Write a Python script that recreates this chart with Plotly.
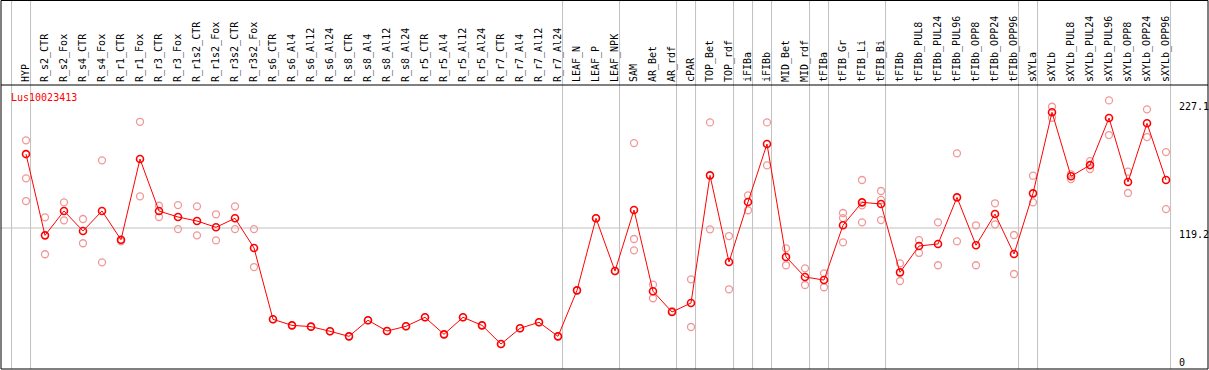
import plotly.graph_objects as go

categories = ["HYP", "R_s2_CTR", "R_s2_Fox", "R_s4_CTR", "R_s4_Fox", "R_r1_CTR", "R_r1_Fox",
              "R_r3_CTR", "R_r3_Fox", "R_r1s2_CTR", "R_r1s2_Fox", "R_r3s2_CTR", "R_r3s2_Fox",
              "R_s6_CTR", "R_s6_Al4", "R_s6_Al12", "R_s6_Al24", "R_s8_CTR", "R_s8_Al4", "R_s8_Al12",
              "R_s8_Al24", "R_r5_CTR", "R_r5_Al4", "R_r5_Al12", "R_r5_Al24", "R_r7_CTR", "R_r7_Al4",
              "R_r7_Al12", "R_r7_Al24", "LEAF_N", "LEAF_P", "LEAF_NPK", "SAM", "AR_Bet", "AR_rdf",
              "cPAR", "TOP_Bet", "TOP_rdf", "iFIBa", "iFIBb", "MID_Bet", "MID_rdf", "tFIBa",
              "tFIB_Gr", "tFIB_Li", "tFIB_Bi", "tFIBb", "tFIBb_PUL8", "tFIBb_PUL24", "tFIBb_PUL96",
              "tFIBb_OPP8", "tFIBb_OPP24", "tFIBb_OPP96", "sXYLa", "sXYLb", "sXYLb_PUL8",
              "sXYLb_PUL24", "sXYLb_PUL96", "sXYLb_OPP8", "sXYLb_OPP24", "sXYLb_OPP96"]

mean_values = [181.7, 113.0, 133.6, 116.7, 133.6, 109.3, 177.5, 133.6, 128.5, 125.1, 119.8,
               127.4, 102.3, 42.0, 36.9, 35.8, 31.9, 27.6, 41.2, 32.1, 36.1, 43.7, 29.3, 43.7,
               36.9, 21.1, 34.4, 39.5, 27.6, 66.5, 127.4, 82.8, 134.4, 65.7, 48.2, 55.8, 163.7,
               90.4, 141.2, 190.2, 94.7, 77.8, 75.2, 121.5, 140.9, 139.5, 81.7, 104.0, 105.7,
               145.1, 104.6, 131.0, 97.2, 148.5, 217.0, 162.9, 172.4, 212.2, 158.1, 207.7, 159.8]

replicates = [[193.3, 161.2, 142.0], [128.2, 97.0], [140.9, 125.7], [126.8, 106.3], [176.4, 90.2],
              [108.0, 108.8], [209.0, 146.0], [138.0, 128.5], [138.6, 118.3], [137.5, 113.0],
              [130.8, 108.8], [137.5, 118.3], [118.3, 86.2], [42.0], [36.9], [35.8], [31.9],
              [27.6], [41.2], [32.1], [36.1], [43.7], [29.3], [43.7], [36.9], [21.1], [34.4],
              [39.5], [27.6], [66.5], [127.4], [82.8], [191.0, 109.9, 100.3], [71.3, 59.8],
              [49.0], [75.8, 35.5], [208.5, 118.1], [112.4, 67.4], [146.8, 134.2], [208.5, 172.2],
              [102.0, 87.7], [85.1, 71.0], [80.9, 69.1], [131.9, 127.6, 107.1],
              [159.8, 138.4, 124.0], [150.5, 142.9, 125.9], [89.3, 74.4], [109.0, 98.1],
              [124.0, 87.7], [182.3, 107.9], [121.5, 87.7], [140.1, 122.3], [113.3, 80.3],
              [163.4, 140.9], [221.7, 212.4], [164.6, 160.6], [175.8, 169.1], [227.1, 197.8],
              [166.8, 148.8], [219.5, 196.1], [183.4, 135.2]]

axis_labels = ["227.1", "119.2", "0"]
axis_values = [227.1, 119.2, 0]
gene_name = "Lus10023413"

# indices after which a group separator is drawn
group_breaks = [-1, 0, 28, 31, 34, 35, 37, 38, 39, 41, 42, 45, 52, 53, 60]

W, H = 1209, 370
ML, MR, MT, MB = 1, 1, 85, 1
plot_w = W - ML - MR
plot_h = H - MT - MB
px_per_cat = 19.0
x0_px = 26 - ML
xr0 = -x0_px / px_per_cat
xr1 = xr0 + plot_w / px_per_cat
y_top = 240.1

FONT = "DejaVu Sans Mono"
idx = list(range(len(categories)))

rx, ry = [], []
for i, reps in enumerate(replicates):
    for v in reps:
        rx.append(i)
        ry.append(v)

fig = go.Figure()
fig.add_trace(go.Scatter(x=rx, y=ry, mode="markers",
                         marker=dict(symbol="circle-open", size=7, color="#f09898",
                                     line=dict(width=1.3, color="#f09898")),
                         hoverinfo="skip", showlegend=False))
fig.add_trace(go.Scatter(x=idx, y=mean_values, mode="lines+markers",
                         line=dict(color="#ff0000", width=1),
                         marker=dict(symbol="circle-open", size=7, color="#ff0000",
                                     line=dict(width=1.6, color="#ff0000")),
                         showlegend=False))

shapes = []
top_ext = 1 + (MT - 0.5) / plot_h
for b in group_breaks:
    xb = b + 0.24
    shapes.append(dict(type="line", xref="x", yref="paper", x0=xb, x1=xb, y0=0, y1=top_ext,
                       line=dict(color="#c0c0c0", width=1), layer="below"))
shapes.append(dict(type="line", xref="x", yref="y", x0=xr0, x1=group_breaks[-1] + 0.24,
                   y0=axis_values[1], y1=axis_values[1],
                   line=dict(color="#c0c0c0", width=1), layer="below"))
shapes.append(dict(type="rect", xref="paper", yref="paper", x0=0, x1=1, y0=0, y1=top_ext,
                   line=dict(color="black", width=1)))
shapes.append(dict(type="line", xref="paper", yref="paper", x0=0, x1=1, y0=1, y1=1,
                   line=dict(color="black", width=1)))

annotations = [dict(text=gene_name, xref="paper", yref="paper", x=(9 - ML) / plot_w,
                    y=(H - MB - 97) / plot_h, xanchor="left", yanchor="middle", showarrow=False,
                    font=dict(family=FONT, size=10, color="#ff0000"))]
for lab, val in zip(axis_labels, axis_values):
    annotations.append(dict(text=lab, xref="paper", yref="y", x=(1178 - ML) / plot_w, y=val,
                            xanchor="left", yanchor="bottom" if val == 0 else "top",
                            showarrow=False, borderpad=0,
                            font=dict(family=FONT, size=10, color="black")))

fig.update_layout(
    width=W, height=H, margin=dict(l=ML, r=MR, t=MT, b=MB),
    paper_bgcolor="white", plot_bgcolor="white",
    xaxis=dict(range=[xr0, xr1], side="top", tickmode="array", tickvals=idx,
               ticktext=categories, tickangle=-90, showgrid=False, zeroline=False,
               ticks="", showline=False, ticklabelstandoff=2,
               tickfont=dict(family=FONT, size=10, color="black")),
    yaxis=dict(range=[0, y_top], showticklabels=False, showgrid=False, zeroline=False,
               ticks="", showline=False),
    shapes=shapes, annotations=annotations,
)

fig.write_html("out.html", config={"displayModeBar": False},
               post_script="document.body.style.margin='0';document.body.style.padding='0';"
                           "document.documentElement.style.overflow='hidden';")
